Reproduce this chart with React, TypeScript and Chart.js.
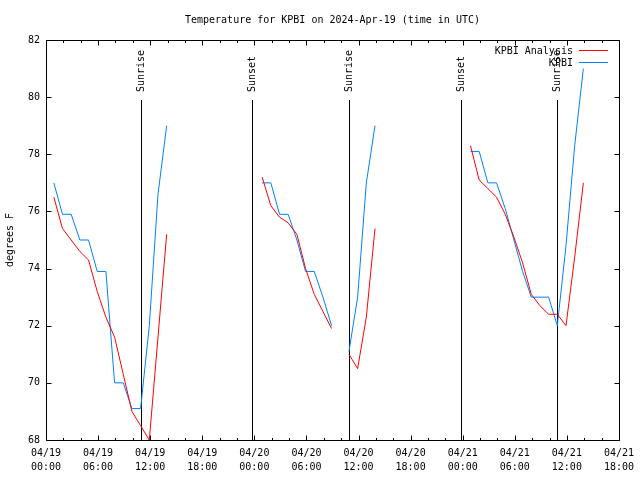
import React, { useEffect, useRef } from "react";
import { Chart, registerables } from "chart.js";

Chart.register(...registerables);

const TITLE = "Temperature for KPBI on 2024-Apr-19 (time in UTC)";
const Y_LABEL = "degrees F";
const FONT = '"DejaVu Sans Mono", "Liberation Mono", monospace';

// Hour index since 2024-04-19 00:00 UTC (reports at :54 past the hour); null = gap in record
const HOUR_INDEX: (number | null)[] = [
  0, 1, 2, 3, 4, 5, 6, 7, 8, 9, 10, 11, 12, 13, null,
  24, 25, 26, 27, 28, 29, 30, 31, 32, null,
  34, 35, 36, 37, null,
  48, 49, 50, 51, 52, 53, 54, 55, 56, 57, 58, 59, 60, 61,
];
const REPORT_MINUTE = 54;

const ANALYSIS: (number | null)[] = [
  76.5, 75.4, 75.0, 74.6, 74.3, 73.2, 72.3, 71.6, 70.3, 69.0, 68.5, 68.0, 71.6, 75.2, null,
  77.2, 76.2, 75.8, 75.6, 75.2, 74.0, 73.1, 72.5, 71.9, null,
  71.0, 70.5, 72.3, 75.4, null,
  78.3, 77.1, 76.8, 76.5, 75.9, 75.1, 74.2, 73.1, 72.7, 72.4, 72.4, 72.0, 74.4, 77.0,
];

const OBSERVED: (number | null)[] = [
  77.0, 75.9, 75.9, 75.0, 75.0, 73.9, 73.9, 70.0, 70.0, 69.1, 69.1, 72.0, 76.6, 79.0, null,
  77.0, 77.0, 75.9, 75.9, 75.0, 73.9, 73.9, 73.0, 72.0, null,
  71.1, 73.0, 77.0, 79.0, null,
  78.1, 78.1, 77.0, 77.0, 76.1, 75.0, 73.9, 73.0, 73.0, 73.0, 72.0, 74.8, 78.3, 81.0,
];

const SUN_EVENT_HOURS = [10.9, 23.68, 34.93, 47.83, 58.92];
const SUN_EVENT_LABELS = ["Sunrise", "Sunset", "Sunrise", "Sunset", "Sunrise"];

const X_TICK_DATES = ["04/19", "04/19", "04/19", "04/19", "04/20", "04/20", "04/20", "04/20", "04/21", "04/21", "04/21", "04/21"];
const X_TICK_TIMES = ["00:00", "06:00", "12:00", "18:00", "00:00", "06:00", "12:00", "18:00", "00:00", "06:00", "12:00", "18:00"];

const SERIES_LABELS = ["KPBI Analysis", "KPBI"];
const SERIES_COLORS = ["#ff0000", "#0080ff"];

function toPoints(values: (number | null)[]) {
  return values.map((v, i) => {
    const h = HOUR_INDEX[i];
    const x = h === null ? (HOUR_INDEX[i - 1] as number) + 1 : h + REPORT_MINUTE / 60;
    return { x, y: h === null ? null : v };
  });
}

const decorPlugin = {
  id: "decor",
  beforeDatasetsDraw(chart: any) {
    const { ctx, chartArea: a, scales } = chart;
    const x = scales.x;
    ctx.save();
    ctx.strokeStyle = "#000";
    ctx.lineWidth = 1;
    ctx.fillStyle = "#000";
    ctx.font = `10px ${FONT}`;
    SUN_EVENT_HOURS.forEach((h, i) => {
      const px = Math.round(x.getPixelForValue(h)) + 0.5;
      ctx.beginPath();
      ctx.moveTo(px, a.top + 60);
      ctx.lineTo(px, a.bottom);
      ctx.stroke();
      ctx.save();
      ctx.translate(px, a.top + 52);
      ctx.rotate(-Math.PI / 2);
      ctx.textAlign = "left";
      ctx.textBaseline = "middle";
      ctx.fillText(SUN_EVENT_LABELS[i], 0, 0);
      ctx.restore();
    });
    ctx.restore();
  },
  afterDatasetsDraw(chart: any) {
    const { ctx, chartArea: a, scales } = chart;
    const x = scales.x;
    const y = scales.y;
    const L = Math.round(a.left) + 0.5;
    const R = Math.round(a.right) + 0.5;
    const T = Math.round(a.top) + 0.5;
    const B = Math.round(a.bottom) + 0.5;
    ctx.save();
    ctx.strokeStyle = "#000";
    ctx.lineWidth = 1;
    ctx.beginPath();
    ctx.rect(L, T, R - L, B - T);
    ctx.stroke();
    // x ticks (major every 6 h, minor every 2 h), mirrored on top
    for (let h = x.min; h <= x.max; h += 2) {
      const px = Math.round(x.getPixelForValue(h)) + 0.5;
      const len = h % 6 === 0 ? 5 : 2.5;
      ctx.beginPath();
      ctx.moveTo(px, B);
      ctx.lineTo(px, B - len);
      ctx.moveTo(px, T);
      ctx.lineTo(px, T + len);
      ctx.stroke();
    }
    for (let v = y.min; v <= y.max; v += 2) {
      const py = Math.round(y.getPixelForValue(v)) + 0.5;
      ctx.beginPath();
      ctx.moveTo(L, py);
      ctx.lineTo(L + 5, py);
      ctx.moveTo(R, py);
      ctx.lineTo(R - 5, py);
      ctx.stroke();
    }
    // legend
    ctx.font = `10px ${FONT}`;
    ctx.textAlign = "right";
    ctx.textBaseline = "middle";
    ctx.fillStyle = "#000";
    chart.data.datasets.forEach((ds: any, i: number) => {
      const ly = a.top + 10.5 + i * 12.5;
      ctx.fillText(ds.label, a.right - 46, ly + 0.5);
      ctx.strokeStyle = ds.borderColor;
      ctx.beginPath();
      ctx.moveTo(a.right - 40, Math.round(ly) - 0.5);
      ctx.lineTo(a.right - 11, Math.round(ly) - 0.5);
      ctx.stroke();
    });
    ctx.restore();
  },
};

export default function App() {
  const ref = useRef<HTMLCanvasElement | null>(null);

  useEffect(() => {
    if (!ref.current) return;
    const chart = new Chart(ref.current, {
      type: "line",
      data: {
        datasets: [
          {
            label: SERIES_LABELS[0],
            data: toPoints(ANALYSIS) as any,
            borderColor: SERIES_COLORS[0],
            backgroundColor: SERIES_COLORS[0],
            borderWidth: 1,
            pointRadius: 0,
            tension: 0,
            spanGaps: false,
          },
          {
            label: SERIES_LABELS[1],
            data: toPoints(OBSERVED) as any,
            borderColor: SERIES_COLORS[1],
            backgroundColor: SERIES_COLORS[1],
            borderWidth: 1,
            pointRadius: 0,
            tension: 0,
            spanGaps: false,
          },
        ],
      },
      options: {
        responsive: false,
        animation: false,
        layout: { padding: { left: 0, right: 19, top: 0, bottom: 0 } },
        plugins: {
          legend: { display: false },
          tooltip: { enabled: false },
          title: {
            display: true,
            text: TITLE,
            fullSize: false,
            color: "#000",
            font: { family: FONT, size: 10, weight: "normal", lineHeight: 1.2 },
            padding: { top: 14, bottom: 14 },
          },
        },
        scales: {
          x: {
            type: "linear",
            min: 0,
            max: 66,
            grid: { display: false, drawTicks: false },
            border: { display: false },
            afterFit: (s: any) => {
              s.height = 40;
            },
            ticks: {
              stepSize: 6,
              autoSkip: false,
              maxRotation: 0,
              padding: 6,
              color: "#000",
              font: { family: FONT, size: 10, lineHeight: 1.4 },
              callback: (v: any) => {
                const i = Math.round(Number(v) / 6);
                return [X_TICK_DATES[i], X_TICK_TIMES[i]];
              },
            },
          },
          y: {
            min: 68,
            max: 82,
            grid: { display: false, drawTicks: false },
            border: { display: false },
            afterFit: (s: any) => {
              s.width = 46;
            },
            title: {
              display: true,
              text: Y_LABEL,
              color: "#000",
              font: { family: FONT, size: 10 },
              padding: { top: 4, bottom: 4 },
            },
            ticks: {
              stepSize: 2,
              padding: 6,
              color: "#000",
              font: { family: FONT, size: 10 },
            },
          },
        },
      },
      plugins: [decorPlugin],
    });
    return () => chart.destroy();
  }, []);

  return (
    <div style={{ position: "fixed", left: 0, top: 0, width: 640, height: 480, background: "#fff" }}>
      <canvas ref={ref} width={640} height={480} />
    </div>
  );
}
